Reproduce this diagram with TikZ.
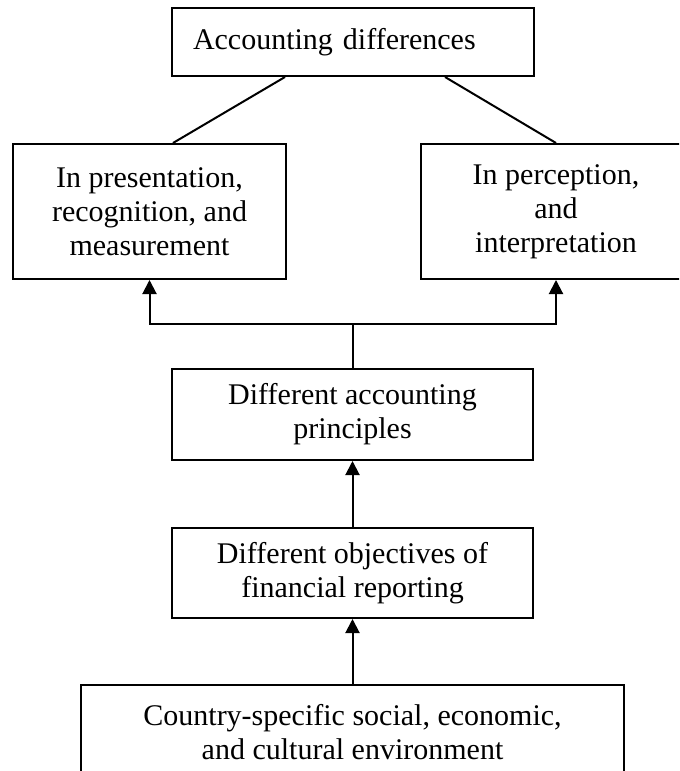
\documentclass[tikz,border=0pt]{standalone}
\usepackage{fontspec}
\setmainfont{Liberation Serif}
\usepackage{tikz}
\usetikzlibrary{arrows.meta,positioning,calc}
\tikzset{
  boxA/.style={draw,line width=0.8pt,rectangle,align=center,inner sep=0pt,font=\fontsize{12}{13.6}\selectfont},
  conn/.style={line width=0.8pt},
  arr/.style={line width=0.8pt,-{Triangle[width=5.6pt,length=5.6pt]}},
}

\begin{document}
\begin{tikzpicture}[x=0.4pt,y=-0.4pt]
        \useasboundingbox (0,0) rectangle (679,771);
        \clip (0,0) rectangle (679,771);
        % --- boxes ---
        \node[boxA,minimum width=144.8pt,minimum height=27.2pt,text width=128pt,align=left,inner xsep=8.4pt] (acc) at (353,42) {Accounting differences};
        \node[boxA,minimum width=109.2pt,minimum height=54pt] (pres) at (149.5,211.5) {In presentation,\\recognition, and\\measurement};
        \node[boxA,minimum width=108pt,minimum height=54pt] (perc) at (556,211.5) {In perception,\\and\\interpretation};
        \node[boxA,minimum width=144.4pt,minimum height=36.4pt] (princ) at (352.5,414.5) {Different accounting\\principles};
        \node[boxA,minimum width=144.4pt,minimum height=36pt] (obj) at (352.5,573) {Different objectives of\\financial reporting};
        \node[boxA,minimum width=216.8pt,minimum height=38pt] (env) at (352.5,732.5) {Country-specific social, economic,\\and cultural environment};
        % lines from top box
        \draw[conn] ([xshift=45.6pt]acc.south west) -- ([xshift=9.4pt]pres.north);
        \draw[conn] ([xshift=-36pt]acc.south east) -- (perc.north);
        % arrows
        \coordinate (split) at (352.5,324);
        \draw[conn] (princ.north) -- (split);
        \draw[arr] (split) -| (pres.south);
        \draw[arr] (split) -| (perc.south);
        \draw[arr] (obj.north) -- (princ.south);
        \draw[arr] (env.north) -- (obj.south);
      \end{tikzpicture}
\end{document}
